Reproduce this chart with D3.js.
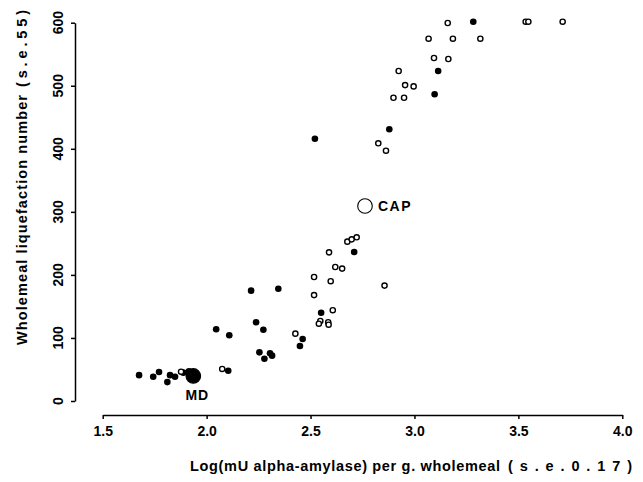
<!DOCTYPE html>
<html>
<head>
<meta charset="utf-8">
<script src="https://cdn.jsdelivr.net/npm/d3@7"></script>
<style>
  html, body { margin: 0; padding: 0; background: #fff; }
  svg text { font-family: "Liberation Sans", Arial, sans-serif; font-weight: bold; fill: #000; }
</style>
</head>
<body>
<svg id="chart" width="643" height="482"></svg>
<script>
// ---- data ----
const xTicks = [1.5, 2.0, 2.5, 3.0, 3.5, 4.0];
const yTicks = [0, 100, 200, 300, 400, 500, 600];

const filledX = [1.675, 1.743, 1.771, 1.811, 1.824, 1.848, 1.888, 1.915, 2.104, 2.046, 2.109, 2.214, 2.345, 2.238, 2.273, 2.254, 2.278, 2.305, 2.315, 2.462, 2.449, 2.521, 2.551, 2.710, 2.879, 3.097, 3.114, 3.283];
const filledY = [41, 38.5, 46, 30, 41, 38.5, 45, 47, 48, 113.7, 104.2, 175, 178, 124.8, 113, 77.2, 67, 75.6, 71.9, 98.3, 87.2, 416, 140, 236.3, 431, 486.4, 523.4, 601.6];

const openX = [1.877, 2.075, 2.427, 2.517, 2.517, 2.547, 2.540, 2.585, 2.587, 2.607, 2.597, 2.589, 2.619, 2.652, 2.677, 2.698, 2.722, 2.856, 2.826, 2.863, 2.899, 2.950, 2.924, 2.955, 2.996, 3.094, 3.163, 3.068, 3.185, 3.317, 3.160, 3.535, 3.548, 3.713];
const openY = [46.5, 50.8, 106.8, 196.7, 168, 127, 122.6, 125, 121, 144, 190, 235.8, 212.5, 210, 252.7, 256.4, 259.6, 183, 408.7, 397, 481, 481, 523.4, 501, 499, 544, 542.4, 574.6, 574.6, 574.6, 599.5, 601.6, 601.6, 601.6];

const specialNames = ["MD", "CAP"];
const specialX = [1.936, 2.762];
const specialY = [39.7, 309.3];
const specialFilled = [true, false];

const xTitle = "Log(mU alpha-amylase) per g. wholemeal";
const xTitleSE = "(s.e.0.17)";
const yTitle = "Wholemeal liquefaction number";
const yTitleSE = "(s.e.55)";

// ---- drawing ----
const svg = d3.select("#chart");
const x = d3.scaleLinear().domain([1.5, 4.0]).range([102.7, 622.3]);
const y = d3.scaleLinear().domain([0, 600]).range([401, 22.7]);

// x axis
const gx = svg.append("g").attr("transform", "translate(0,415)")
  .call(d3.axisBottom(x).tickValues(xTicks).tickSize(4).tickSizeOuter(0).tickPadding(7)
        .tickFormat(d3.format(".1f")));
gx.select(".domain").attr("stroke", "#000").attr("stroke-width", 1.5);
gx.selectAll(".tick line").attr("stroke", "#000").attr("stroke-width", 1.5);
gx.selectAll(".tick text").style("font-size", "14px").style("font-family", "'Liberation Sans', Arial, sans-serif").style("font-weight", "bold");

// y axis
const gy = svg.append("g").attr("transform", "translate(75,0)")
  .call(d3.axisLeft(y).tickValues(yTicks).tickSize(4).tickSizeOuter(0).tickFormat(""));
gy.select(".domain").attr("stroke", "#000").attr("stroke-width", 1.5);
gy.selectAll(".tick line").attr("stroke", "#000").attr("stroke-width", 1.5);
svg.append("g").selectAll("text").data(yTicks).join("text")
  .attr("transform", d => `translate(63,${y(d)}) rotate(-90)`)
  .attr("text-anchor", "middle")
  .style("font-size", "14px")
  .text(d => d);

// axis titles
svg.append("text").attr("x", 190).attr("y", 471).style("font-size", "14.5px")
  .attr("textLength", 310).attr("lengthAdjust", "spacing").text(xTitle);
svg.append("text").attr("x", 508).attr("y", 471).style("font-size", "14.5px")
  .attr("textLength", 124).attr("lengthAdjust", "spacing").text(xTitleSE);

svg.append("text").attr("transform", "translate(26.5,345) rotate(-90)").style("font-size", "14.5px")
  .attr("textLength", 250).attr("lengthAdjust", "spacing").text(yTitle);
svg.append("text").attr("transform", "translate(26.5,87) rotate(-90)").style("font-size", "14.5px")
  .attr("textLength", 77).attr("lengthAdjust", "spacing").text(yTitleSE);

// points
const pts = svg.append("g");
pts.selectAll("circle.f").data(filledX.map((d, i) => [d, filledY[i]])).join("circle")
  .attr("class", "f")
  .attr("cx", d => x(d[0])).attr("cy", d => y(d[1])).attr("r", 3.3)
  .attr("fill", "#000");
pts.selectAll("circle.o").data(openX.map((d, i) => [d, openY[i]])).join("circle")
  .attr("class", "o")
  .attr("cx", d => x(d[0])).attr("cy", d => y(d[1])).attr("r", 2.6)
  .attr("fill", "#fff").attr("stroke", "#000").attr("stroke-width", 1.4);

// special large points
const sp = specialNames.map((n, i) => ({ n, x: specialX[i], y: specialY[i], f: specialFilled[i] }));
pts.selectAll("circle.s").data(sp).join("circle")
  .attr("class", "s")
  .attr("cx", d => x(d.x)).attr("cy", d => y(d.y)).attr("r", 7.3)
  .attr("fill", d => d.f ? "#000" : "#fff").attr("stroke", "#000").attr("stroke-width", 1.1);

svg.append("text").attr("x", x(specialX[0]) + 4).attr("y", y(specialY[0]) + 24)
  .attr("text-anchor", "middle").attr("letter-spacing", "1px").style("font-size", "14px").text(specialNames[0]);
svg.append("text").attr("x", x(specialX[1]) + 13).attr("y", y(specialY[1]) + 5.5)
  .attr("letter-spacing", "1.5px").style("font-size", "14px").text(specialNames[1]);
</script>
</body>
</html>
